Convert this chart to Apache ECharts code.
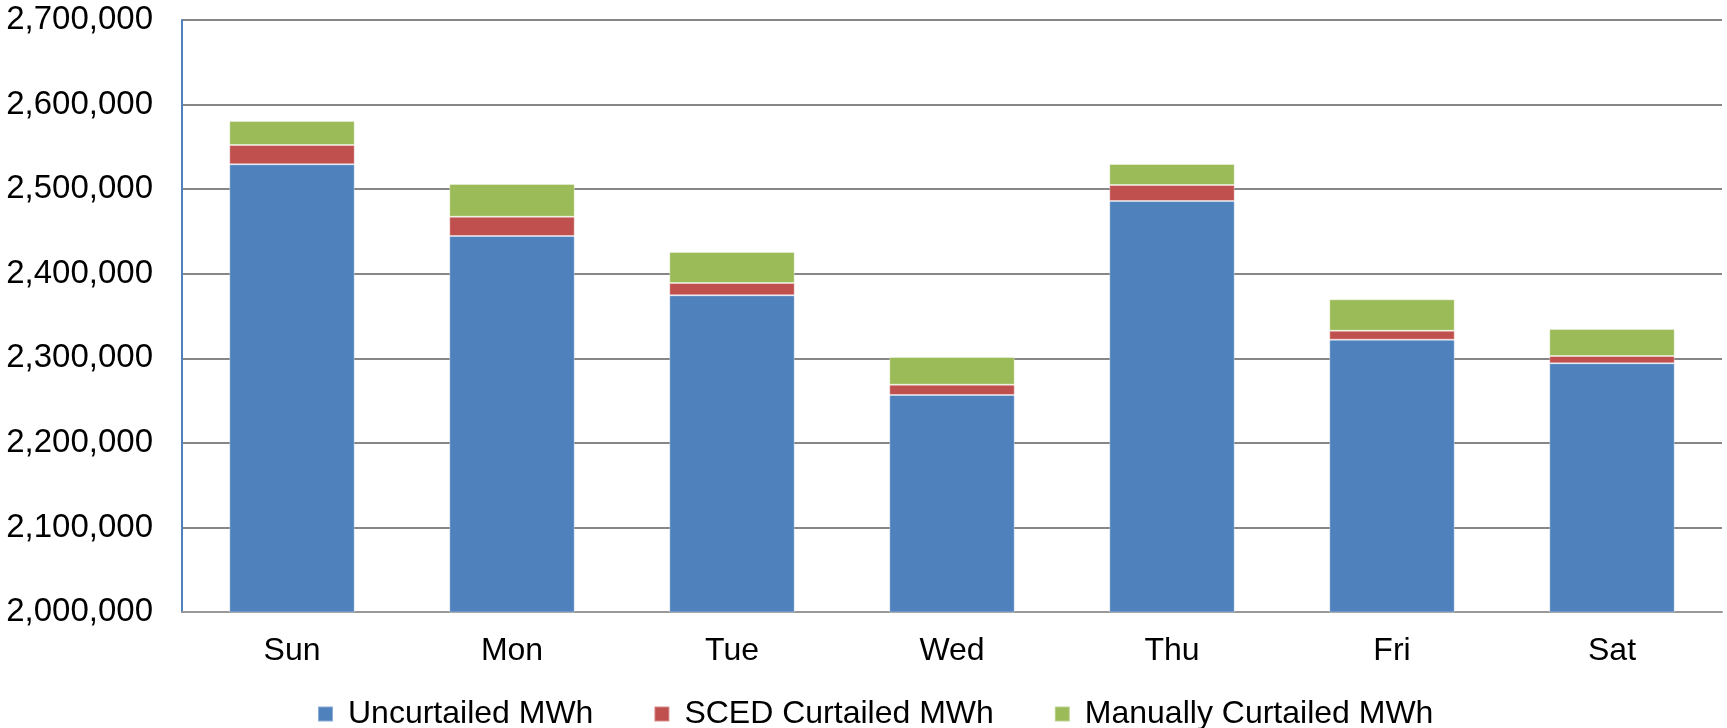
<!DOCTYPE html>
<html>
<head>
<meta charset="utf-8">
<script src="https://cdn.jsdelivr.net/npm/echarts@6/dist/echarts.min.js"></script>
<style>
html,body{margin:0;padding:0;background:#fff;}
#chart{width:1727px;height:728px;}
</style>
</head>
<body>
<div id="chart"></div>
<script>
var categories = ['Sun', 'Mon', 'Tue', 'Wed', 'Thu', 'Fri', 'Sat'];
var uncurtailed = [2529400, 2444600, 2374500, 2256600, 2486000, 2322000, 2294100];
var scedCurtailed = [22800, 22800, 14500, 12200, 18900, 10600, 8600];
var manuallyCurtailed = [28400, 38700, 36700, 32700, 24800, 37100, 31900];
var seriesNames = ['Uncurtailed MWh', 'SCED Curtailed MWh', 'Manually Curtailed MWh'];
var yTicks = { min: 2000000, max: 2700000, interval: 100000 };

var chart = echarts.init(document.getElementById('chart'));
var font = 'Liberation Sans, Arial, sans-serif';
function bar(name, data, color) {
  return {
    name: name, type: 'bar', stack: 'total', data: data,
    barWidth: '57%',
    itemStyle: { color: color, borderColor: 'rgba(255,255,255,0.35)', borderWidth: 1 },
    emphasis: { disabled: true }
  };
}
chart.setOption({
  animation: false,
  textStyle: { fontFamily: font },
  grid: { left: 182, right: 5, top: 20, bottom: 116, containLabel: false },
  legend: {
    left: 312, top: 693,
    itemWidth: 15, itemHeight: 15, itemGap: 60,
    icon: 'rect',
    textStyle: { fontSize: 32, color: '#000', fontFamily: font, padding: [0, 0, 0, 10] },
    data: seriesNames
  },
  xAxis: {
    type: 'category', data: categories,
    axisLine: { lineStyle: { color: '#999', width: 2 } },
    axisTick: { show: false },
    axisLabel: { fontSize: 32, color: '#000', margin: 23, fontFamily: font }
  },
  yAxis: {
    type: 'value', min: yTicks.min, max: yTicks.max, interval: yTicks.interval,
    axisLine: { show: true, lineStyle: { color: '#4f81bd', width: 2 } },
    axisTick: { show: false },
    axisLabel: {
      fontSize: 33, color: '#000', margin: 29, fontFamily: font,
      formatter: function (v) { return v.toLocaleString('en-US'); }
    },
    splitLine: { lineStyle: { color: '#868686', width: 2 } }
  },
  series: [
    bar(seriesNames[0], uncurtailed, '#4f81bd'),
    bar(seriesNames[1], scedCurtailed, '#c0504d'),
    bar(seriesNames[2], manuallyCurtailed, '#9bbb59')
  ]
});
</script>
</body>
</html>
